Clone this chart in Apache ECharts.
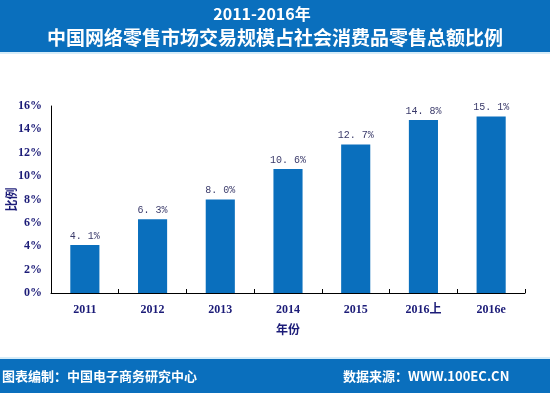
<!DOCTYPE html>
<html><head><meta charset="utf-8">
<script src="https://cdn.jsdelivr.net/npm/echarts@6/dist/echarts.min.js"></script>
<style>html,body{margin:0;padding:0;background:#fff}#c{width:550px;height:393px}</style>
</head><body><div id="c"></div>
<script>
const categories = ['2011','2012','2013','2014','2015','2016上','2016e'];
const values = [4.1, 6.3, 8.0, 10.6, 12.7, 14.8, 15.1];
const yTicks = [0,2,4,6,8,10,12,14,16];
const titleLines = ['2011-2016年','中国网络零售市场交易规模占社会消费品零售总额比例'];
const footerLeft = '图表编制：中国电子商务研究中心';
const footerRight = '数据来源：WWW.100EC.CN';

const chart = echarts.init(document.getElementById('c'));
const navy = '#1c1c78';
const blue = '#0a6fbd';
chart.setOption({
  animation:false,
  graphic:[
    {type:'rect',shape:{x:0,y:0,width:550,height:52},style:{fill:blue},z:0},
    {type:'rect',shape:{x:0,y:52,width:550,height:2},style:{fill:'#d6ecf8'},z:0},
    {type:'text',x:262,y:14,style:{text:titleLines[0],fill:'#fff',font:'bold 16px "Noto Sans CJK SC", sans-serif',align:'center',verticalAlign:'middle'},z:2},
    {type:'text',x:275,y:38,style:{text:titleLines[1],fill:'#fff',font:'bold 19px "Noto Sans CJK SC", sans-serif',align:'center',verticalAlign:'middle'},z:2},
    {type:'rect',shape:{x:0,y:357,width:550,height:2},style:{fill:'#d6ecf8'},z:0},
    {type:'rect',shape:{x:0,y:359,width:550,height:34},style:{fill:blue},z:0},
    {type:'text',x:2,y:376,style:{text:footerLeft,fill:'#fff',font:'bold 13px "Noto Sans CJK SC", sans-serif',align:'left',verticalAlign:'middle'},z:2},
    {type:'text',x:343,y:376,style:{text:footerRight,fill:'#fff',font:'bold 13px "Noto Sans CJK SC", sans-serif',align:'left',verticalAlign:'middle'},z:2}
  ],
  grid:{left:51,right:25,top:106,bottom:100,containLabel:false,outerBoundsMode:'none'},
  xAxis:{
    type:'category',data:categories,
    name:'年份',nameLocation:'middle',nameGap:30,nameMoveOverlap:false,
    nameTextStyle:{color:navy,fontWeight:'bold',fontSize:12,fontFamily:'"Noto Sans CJK SC", serif'},
    axisLine:{lineStyle:{color:'#000',width:1}},
    axisTick:{show:true,inside:true,length:4,lineStyle:{color:'#000'}},
    axisLabel:{color:navy,fontWeight:'bold',fontSize:12,fontFamily:'"Liberation Serif", "Noto Sans CJK SC", serif',margin:11}
  },
  yAxis:{
    type:'value',min:0,max:16,interval:2,
    name:'比例',nameLocation:'middle',nameGap:34,nameRotate:90,nameMoveOverlap:false,
    nameTextStyle:{color:navy,fontWeight:'bold',fontSize:12,fontFamily:'"Noto Sans CJK SC", serif'},
    axisLine:{show:true,lineStyle:{color:'#000',width:1}},
    axisTick:{show:false},
    splitLine:{show:false},
    axisLabel:{color:navy,fontWeight:'bold',fontSize:12,fontFamily:'"Liberation Serif", serif',margin:9,
      formatter:v=>yTicks.includes(v)?v+'%':''}
  },
  series:[{
    type:'bar',data:values,barWidth:'43%',
    itemStyle:{color:blue},
    label:{show:true,position:'top',distance:4,color:'#3a3a6a',fontSize:10,fontFamily:'"Liberation Mono", monospace',
      formatter:p=>p.value.toFixed(1).replace('.', '. ')+'%'}
  }]
});
</script></body></html>
